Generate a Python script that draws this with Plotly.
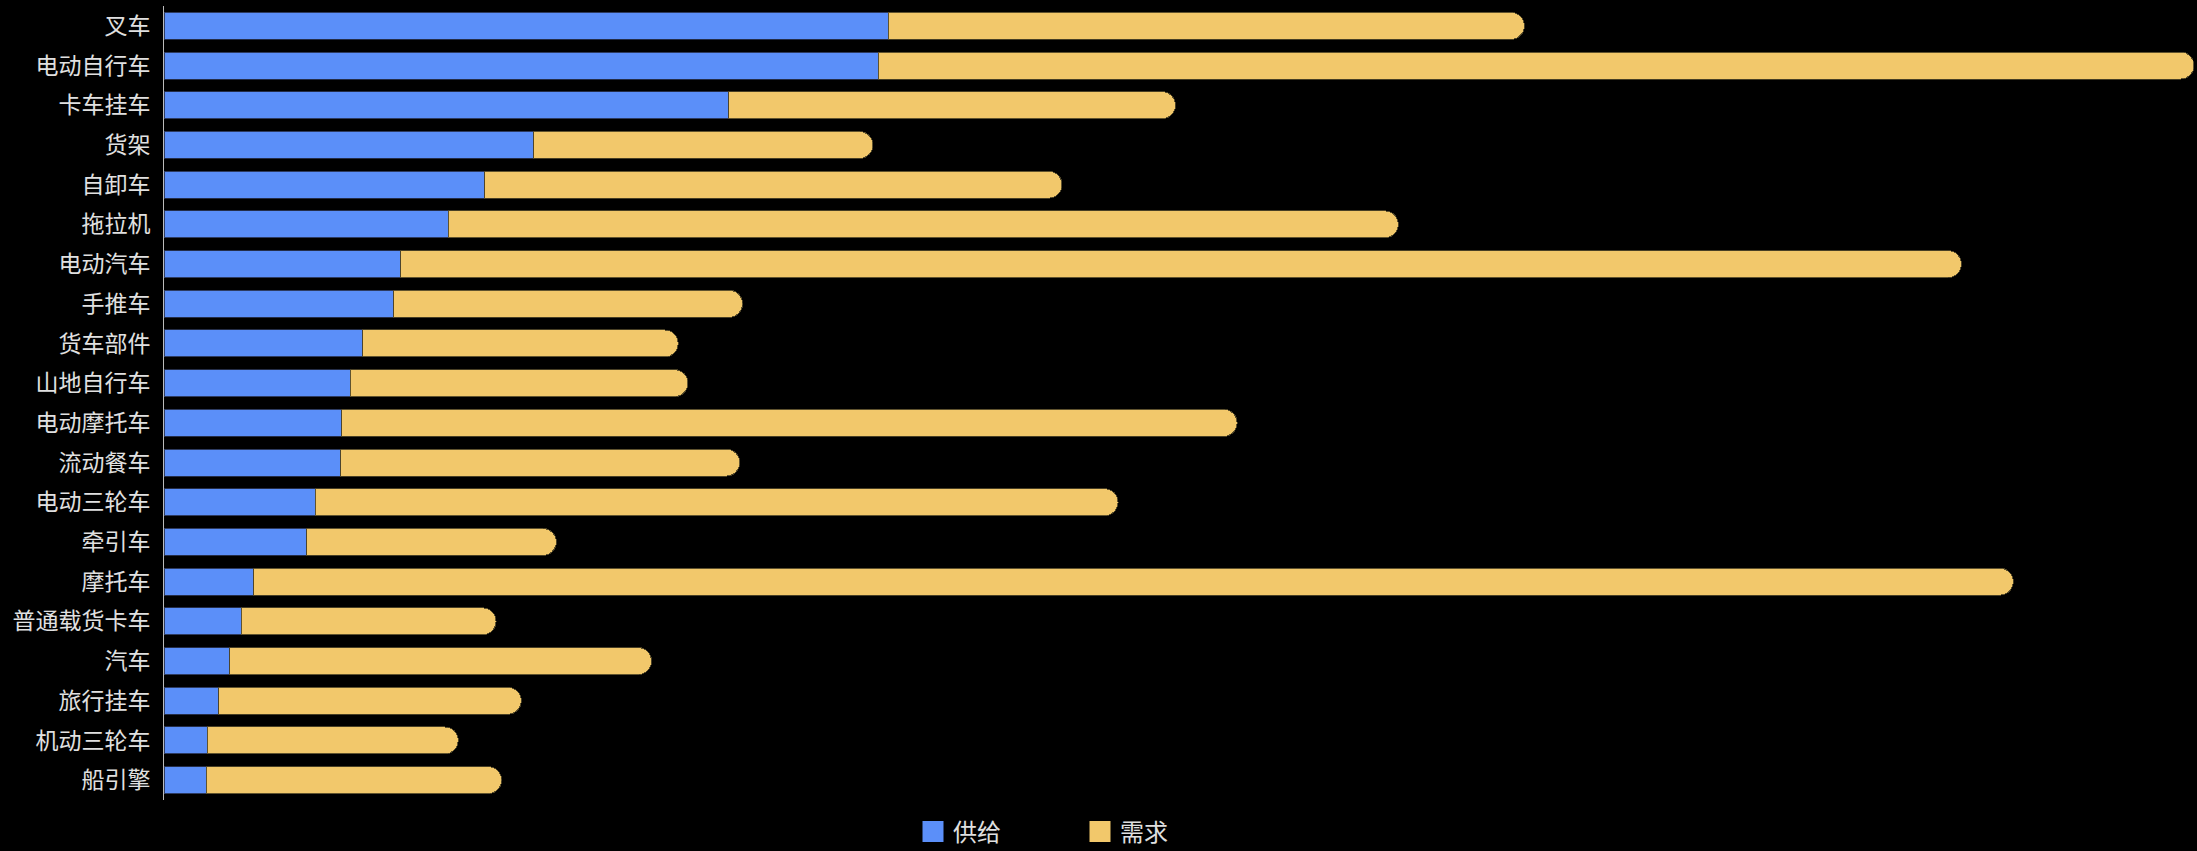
import plotly.graph_objects as go

categories = ["叉车", "电动自行车", "卡车挂车", "货架", "自卸车", "拖拉机", "电动汽车", "手推车",
              "货车部件", "山地自行车", "电动摩托车", "流动餐车", "电动三轮车", "牵引车", "摩托车",
              "普通载货卡车", "汽车", "旅行挂车", "机动三轮车", "船引擎"]
supply = [517, 510, 403, 264, 229, 203, 169, 164, 142, 133, 127, 126, 108, 102, 64, 55, 47, 39, 31, 30]
demand = [454, 939, 319, 242, 412, 678, 1114, 249, 225, 241, 639, 285, 573, 178, 1256, 182, 301, 216, 179, 211]
series_names = ["供给", "需求"]

BLUE = "#5B8FF9"
YELLOW = "#F2C86B"

fig = go.Figure()
fig.add_trace(go.Bar(
    y=categories, x=supply, name=series_names[0], orientation="h", showlegend=False,
    legendgroup="s",
    marker=dict(color=BLUE, line=dict(color="rgba(40,50,80,0.9)", width=1)),
))
fig.add_trace(go.Bar(
    y=categories, x=demand, name=series_names[1], orientation="h", showlegend=False,
    legendgroup="d",
    marker=dict(color=YELLOW, line=dict(color="rgba(80,70,40,0.9)", width=1), cornerradius="50%"),
))
# legend entries (larger square keys)
for nm, col, grp in [(series_names[0], BLUE, "s"), (series_names[1], YELLOW, "d")]:
    fig.add_trace(go.Scatter(
        x=[None], y=[None], mode="markers", name=nm, legendgroup=grp,
        marker=dict(symbol="square", size=16, color=col, line=dict(color=col, width=5)),
    ))

fig.update_layout(
    barmode="stack",
    bargap=0.32,
    width=2197, height=851,
    paper_bgcolor="#000000",
    plot_bgcolor="#000000",
    margin=dict(l=164, r=3, t=6, b=51),
    font=dict(family="Noto Sans CJK SC", color="#E0E0E0", size=23),
    showlegend=True,
    legend=dict(
        orientation="h", xref="container", yref="container",
        x=913 / 2197, xanchor="left", y=19 / 851, yanchor="middle",
        font=dict(size=24, color="#E0E0E0"),
        itemsizing="trace", traceorder="normal", entrywidth=122,
        bgcolor="rgba(0,0,0,0)",
    ),
    xaxis=dict(range=[0, 1449], showgrid=False, zeroline=False, showticklabels=False,
               showline=False, ticks=""),
    yaxis=dict(autorange="reversed", showgrid=False, zeroline=False,
               showline=True, linecolor="#BBBBBB", linewidth=1,
               ticks="", ticklabelstandoff=8,
               tickfont=dict(size=23, color="#E0E0E0")),
)

fig.write_html(
    "out.html",
    config={"displayModeBar": False},
    post_script="document.body.style.margin='0';document.body.style.background='#000';",
)
